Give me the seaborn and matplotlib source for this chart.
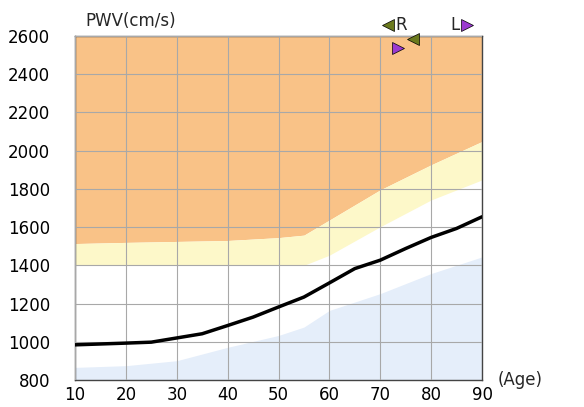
import matplotlib
matplotlib.use('Agg')
import matplotlib.pyplot as plt
import seaborn as sns
import numpy as np

# ===== DATA =====
age = [10, 20, 30, 40, 50, 55, 60, 70, 80, 90]
orange_low = [1514, 1520, 1525, 1530, 1545, 1558, 1637, 1795, 1926, 2048]
yellow_low = [1400, 1400, 1400, 1400, 1400, 1400, 1453, 1602, 1742, 1847]
blue_top = [866, 875, 901, 971, 1033, 1077, 1164, 1252, 1357, 1444]

line_age = [10, 20, 25, 30, 35, 40, 45, 50, 55, 60, 65, 70, 75, 80, 85, 90]
line_pwv = [984, 993, 998, 1020, 1042, 1085, 1129, 1182, 1234, 1308, 1383, 1427, 1488, 1546, 1593, 1654]

right_pt = (76.4, 2582)
left_pt = (73.5, 2539)
# =================

sns.set_style("white")
plt.rcParams['font.family'] = ['DejaVu Sans']

fig = plt.figure(figsize=(5.84, 4.07), dpi=100)
ax = fig.add_axes([75 / 584, 27 / 407, 407 / 584, 344 / 407])

ax.fill_between(age, orange_low, 2600, color='#f9c287', lw=0, zorder=1)
ax.fill_between(age, yellow_low, orange_low, color='#fdf8c9', lw=0, zorder=1)
ax.fill_between(age, 800, blue_top, color='#e5eefa', lw=0, zorder=1)

ax.set_xlim(10, 90)
ax.set_ylim(800, 2600)
ax.set_xticks(range(10, 91, 10))
ax.set_yticks(range(800, 2601, 200))
ax.grid(True, color='#a8a8a8', lw=0.8, zorder=2)
ax.set_axisbelow(False)

sns.lineplot(x=line_age, y=line_pwv, color='black', lw=2.5, ax=ax, zorder=4)

ax.plot(*right_pt, marker='<', ms=9, color='#6b7a1e', mec='black', mew=0.5, zorder=5, clip_on=False)
ax.plot(*left_pt, marker='>', ms=9, color='#9b3ad0', mec='black', mew=0.5, zorder=5, clip_on=False)

# legend markers above the plot
ax.plot(71.6, 2655, marker='<', ms=9, color='#6b7a1e', mec='black', mew=0.5, clip_on=False)
ax.text(73.0, 2655, 'R', fontsize=12, va='center', ha='left')
ax.text(83.7, 2655, 'L', fontsize=12, va='center', ha='left')
ax.plot(87.0, 2655, marker='>', ms=9, color='#9b3ad0', mec='black', mew=0.5, clip_on=False)

ax.text(12, 2630, 'PWV(cm/s)', fontsize=12, va='bottom', ha='left')
ax.text(93, 800, '(Age)', fontsize=12, va='center', ha='left')

for s in ax.spines.values():
    s.set_color('#444444')
    s.set_linewidth(1)
ax.tick_params(axis='both', length=0, labelsize=12, labelcolor='black')
ax.tick_params(axis='y', pad=18)
ax.tick_params(axis='x', pad=4)

plt.savefig('out.png', dpi=100)
